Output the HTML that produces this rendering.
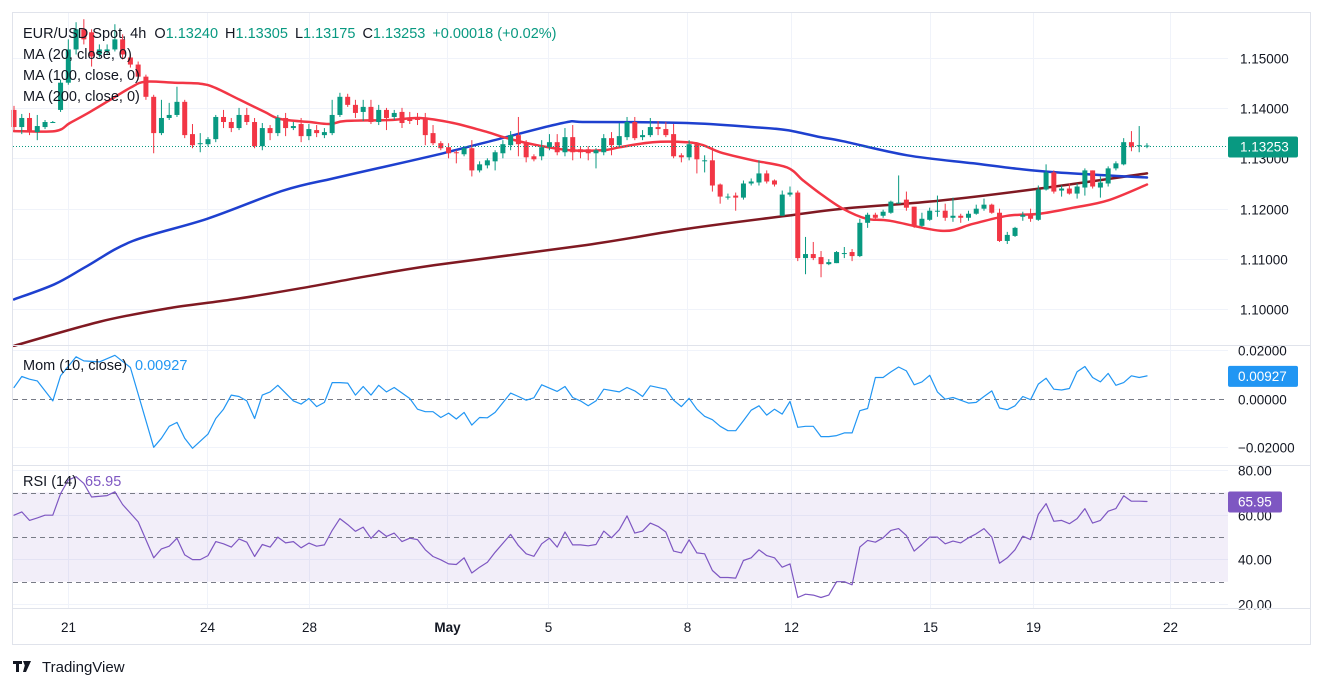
<!DOCTYPE html>
<html><head><meta charset="utf-8"><style>
html,body{margin:0;padding:0;background:#fff;}
svg{display:block;font-family:"Liberation Sans",sans-serif;}
</style></head><body>
<svg id="chart" width="1323" height="689" viewBox="0 0 1323 689" xmlns="http://www.w3.org/2000/svg">
<rect x="0" y="0" width="1323" height="689" fill="#fff"/>
<g id="grid"></g>
<g id="rsiband"></g>
<g id="mas"></g>
<g id="candles"></g>
<g id="ind"></g>
<g id="axes"></g>
<rect x="12.5" y="12.5" width="1298" height="632" fill="none" stroke="#e0e3eb"/>
<line x1="12" y1="345.5" x2="1310" y2="345.5" stroke="#e0e3eb"/>
<line x1="12" y1="465.5" x2="1310" y2="465.5" stroke="#e0e3eb"/>
<line x1="12" y1="608.5" x2="1310" y2="608.5" stroke="#e0e3eb"/>
<g font-size="14.5" fill="#131722">
<text x="23" y="38">EUR/USD Spot, 4h <tspan dx="4">O</tspan><tspan fill="#089981">1.13240</tspan><tspan dx="7">H</tspan><tspan fill="#089981">1.13305</tspan><tspan dx="7">L</tspan><tspan fill="#089981">1.13175</tspan><tspan dx="7">C</tspan><tspan fill="#089981">1.13253</tspan><tspan dx="7" fill="#089981">+0.00018 (+0.02%)</tspan></text>
<text x="23" y="59">MA (20, close, 0)</text>
<text x="23" y="80">MA (100, close, 0)</text>
<text x="23" y="101">MA (200, close, 0)</text>
<text x="23" y="370">Mom (10, close) <tspan dx="4" fill="#2196f3">0.00927</tspan></text>
<text x="23" y="486">RSI (14) <tspan dx="4" fill="#7e57c2">65.95</tspan></text>
</g>
<g>
<path d="M13 661h9v3h-3v8h-3v-8h-3z M23 661h3l-1 5z M26 661h5l-5 11h-3z" fill="#131722"/>
<text x="42" y="672" font-size="15" fill="#131722">TradingView</text>
</g>
</svg>
<script>
const opens=[1.1396,1.1362,1.1380,1.1352,1.1362,1.1372,1.1396,1.1450,1.1516,1.1556,1.1550,1.1506,1.1512,1.1516,1.1536,1.1500,1.1486,1.1462,1.1422,1.1350,1.1380,1.1386,1.1412,1.1348,1.1330,1.1328,1.1338,1.1382,1.1372,1.1360,1.1386,1.1372,1.1324,1.1360,1.1350,1.1380,1.1360,1.1368,1.1344,1.1356,1.1346,1.1350,1.1386,1.1422,1.1406,1.1392,1.1402,1.1372,1.1396,1.1382,1.1392,1.1380,1.1380,1.1380,1.1350,1.1330,1.1322,1.1312,1.1308,1.1320,1.1276,1.1286,1.1294,1.1310,1.1326,1.1346,1.1330,1.1304,1.1304,1.1322,1.1332,1.1312,1.1342,1.1318,1.1318,1.1310,1.1312,1.1340,1.1326,1.1342,1.1372,1.1342,1.1346,1.1362,1.1358,1.1348,1.1306,1.1302,1.1328,1.1296,1.1296,1.1248,1.1224,1.1226,1.1222,1.1250,1.1252,1.1270,1.1256,1.1186,1.1228,1.1232,1.1102,1.1110,1.1104,1.1090,1.1092,1.1112,1.1114,1.1106,1.1172,1.1188,1.1186,1.1192,1.1212,1.1218,1.1204,1.1166,1.1178,1.1196,1.1196,1.1182,1.1186,1.1182,1.1190,1.1200,1.1208,1.1192,1.1136,1.1146,1.1184,1.1188,1.1178,1.1238,1.1272,1.1236,1.1240,1.1230,1.1242,1.1276,1.1242,1.1250,1.1280,1.1288,1.1332,1.1326,1.1324];
const highs=[1.1404,1.1388,1.1390,1.1386,1.1376,1.1374,1.1456,1.1536,1.1570,1.1576,1.1556,1.1526,1.1526,1.1566,1.1546,1.1506,1.1492,1.1466,1.1426,1.1416,1.1410,1.1442,1.1416,1.1368,1.1350,1.1342,1.1386,1.1396,1.1380,1.1400,1.1400,1.1380,1.1370,1.1366,1.1386,1.1390,1.1372,1.1380,1.1368,1.1366,1.1360,1.1416,1.1430,1.1428,1.1416,1.1416,1.1416,1.1406,1.1400,1.1396,1.1400,1.1392,1.1390,1.1390,1.1366,1.1334,1.1330,1.1316,1.1324,1.1336,1.1294,1.1300,1.1316,1.1336,1.1354,1.1382,1.1336,1.1308,1.1336,1.1348,1.1348,1.1360,1.1366,1.1324,1.1324,1.1320,1.1348,1.1352,1.1370,1.1382,1.1382,1.1356,1.1380,1.1374,1.1372,1.1368,1.1310,1.1336,1.1332,1.1306,1.1322,1.1250,1.1230,1.1232,1.1256,1.1260,1.1296,1.1276,1.1258,1.1236,1.1244,1.1236,1.1144,1.1134,1.1116,1.1100,1.1116,1.1124,1.1120,1.1180,1.1192,1.1192,1.1198,1.1216,1.1266,1.1234,1.1204,1.1192,1.1202,1.1226,1.1210,1.1222,1.1190,1.1196,1.1208,1.1220,1.1210,1.1200,1.1154,1.1164,1.1194,1.1200,1.1246,1.1288,1.1276,1.1246,1.1250,1.1250,1.1280,1.1276,1.1264,1.1284,1.1294,1.1340,1.1354,1.1364,1.1330];
const lows=[1.1356,1.1348,1.1346,1.1336,1.1358,1.1370,1.1392,1.1446,1.1506,1.1526,1.1482,1.1500,1.1506,1.1512,1.1496,1.1480,1.1456,1.1416,1.1310,1.1346,1.1376,1.1382,1.1340,1.1320,1.1312,1.1324,1.1332,1.1360,1.1352,1.1356,1.1366,1.1320,1.1316,1.1336,1.1344,1.1344,1.1356,1.1332,1.1336,1.1342,1.1340,1.1346,1.1382,1.1402,1.1380,1.1374,1.1368,1.1366,1.1356,1.1376,1.1360,1.1368,1.1366,1.1326,1.1326,1.1316,1.1300,1.1290,1.1304,1.1264,1.1272,1.1280,1.1276,1.1300,1.1316,1.1304,1.1292,1.1294,1.1296,1.1316,1.1306,1.1304,1.1296,1.1300,1.1296,1.1280,1.1306,1.1306,1.1322,1.1336,1.1336,1.1336,1.1342,1.1346,1.1342,1.1300,1.1292,1.1296,1.1270,1.1272,1.1234,1.1210,1.1218,1.1196,1.1218,1.1246,1.1246,1.1250,1.1244,1.1186,1.1224,1.1096,1.1070,1.1098,1.1064,1.1088,1.1092,1.1102,1.1096,1.1104,1.1162,1.1178,1.1182,1.1190,1.1210,1.1196,1.1162,1.1164,1.1176,1.1184,1.1176,1.1174,1.1172,1.1176,1.1188,1.1196,1.1190,1.1134,1.1130,1.1144,1.1176,1.1174,1.1176,1.1236,1.1230,1.1224,1.1228,1.1220,1.1226,1.1240,1.1222,1.1244,1.1276,1.1286,1.1314,1.1312,1.1320];
const closes=[1.1362,1.1380,1.1354,1.1364,1.1372,1.1372,1.1450,1.1516,1.1556,1.1536,1.1502,1.1516,1.1516,1.1536,1.1506,1.1486,1.1462,1.1422,1.1350,1.1380,1.1386,1.1412,1.1346,1.1326,1.1330,1.1338,1.1382,1.1372,1.1360,1.1386,1.1372,1.1324,1.1360,1.1350,1.1380,1.1360,1.1364,1.1344,1.1358,1.1350,1.1352,1.1386,1.1422,1.1406,1.1390,1.1402,1.1372,1.1396,1.1380,1.1390,1.1370,1.1374,1.1376,1.1346,1.1330,1.1320,1.1310,1.1310,1.1320,1.1276,1.1288,1.1296,1.1312,1.1328,1.1346,1.1328,1.1302,1.1298,1.1322,1.1332,1.1312,1.1342,1.1312,1.1312,1.1310,1.1316,1.1340,1.1326,1.1344,1.1372,1.1340,1.1346,1.1362,1.1358,1.1346,1.1304,1.1302,1.1328,1.1298,1.1296,1.1246,1.1224,1.1224,1.1222,1.1250,1.1254,1.1270,1.1254,1.1248,1.1228,1.1232,1.1102,1.1110,1.1102,1.1090,1.1094,1.1114,1.1112,1.1106,1.1172,1.1188,1.1182,1.1194,1.1214,1.1212,1.1202,1.1166,1.1180,1.1196,1.1196,1.1182,1.1186,1.1182,1.1190,1.1200,1.1208,1.1192,1.1136,1.1148,1.1162,1.1188,1.1180,1.1238,1.1272,1.1234,1.1240,1.1230,1.1244,1.1276,1.1244,1.1252,1.1280,1.1290,1.1332,1.1322,1.1326,1.13253];
const ma20Idx=[0,5.3,7.2,9.8,12.4,15,16.9,20.7,24,25.9,29.1,32.3,34.3,38.1,40.7,42.7,48.5,52.3,56.6,61,63.5,67.4,71.6,75.9,78.1,82.3,86.7,88.8,91,95.2,99.6,101.7,103.9,106.8,109.9,112.9,119.7,123.6,128,132.2,136.5,140.9,146];
const ma20Val=[1.1354,1.1354,1.1370,1.1392,1.1416,1.1440,1.1452,1.1450,1.1448,1.1440,1.1416,1.1392,1.1378,1.1372,1.1368,1.1374,1.1376,1.1380,1.1370,1.1352,1.1340,1.1326,1.1316,1.1316,1.1322,1.1332,1.1332,1.1326,1.1312,1.1296,1.1282,1.1256,1.1230,1.1200,1.1180,1.1176,1.1156,1.1170,1.1186,1.1190,1.1202,1.1216,1.1248];
const ma100Idx=[0,5.2,9.4,15.3,24.9,34.7,41.1,46.8,54.2,60.9,70.7,73.8,86.7,95.2,99.6,103.9,106.8,115.1,123.6,130,134.4,140.9,146];
const ma100Val=[1.1020,1.1050,1.1086,1.1136,1.1180,1.1236,1.1260,1.1280,1.1306,1.1332,1.1370,1.1372,1.1370,1.1362,1.1356,1.1342,1.1334,1.1306,1.1290,1.1278,1.1272,1.1266,1.1262];
const ma200Idx=[0,11.1,19.7,28.2,36.9,45.5,54.2,73.8,86.7,99.6,106.8,119.3,132.2,146];
const ma200Val=[1.0928,1.0976,1.1002,1.1020,1.1042,1.1066,1.1088,1.1128,1.1160,1.1186,1.1200,1.1216,1.1240,1.1270];
const momIdx=[0,1,2,3,5,6,8,9,11,13,15,18,19,20,21,22,23,25,26,27,28,29,30,31,32,33,34,36,37,38,39,40,41,42,43,44,45,46,47,48,49,51,52,53,54,55,56,57,58,59,60,61,62,64,65,66,67,68,70,71,72,73,74,75,76,78,79,80,81,82,84,85,86,87,88,89,90,91,92,93,94,95,96,97,98,99,100,101,102,103,104,105,106,107,108,109,110,111,112,113,114,115,116,117,118,119,120,121,122,123,124,125,126,127,128,129,130,131,132,133,134,135,136,137,138,139,140,141,142,143,144,145,146];
const momVal=[0.0045,0.0090,0.0079,0.0072,-0.0010,0.0093,0.0171,0.0154,0.0150,0.0177,0.0127,-0.0200,-0.0163,-0.0114,-0.0098,-0.0163,-0.0204,-0.0146,-0.0082,-0.0044,0.0014,0.0008,-0.0010,-0.0082,0.0014,0.0027,0.0054,-0.0010,-0.0023,0,-0.0033,-0.0016,0.0065,0.0065,0.0063,0.0014,0.0049,0.0014,0.0054,0.0027,0.0045,0,-0.0044,-0.0054,-0.0054,-0.0078,-0.0060,-0.0084,-0.0057,-0.0109,-0.0078,-0.0079,-0.0057,0.0022,0.0008,-0.0007,0.0003,0.0056,0.0029,0.0049,0.0004,-0.0010,-0.0030,-0.0010,0.0038,0.0027,0.0045,0.0031,0.0008,0.0052,0.0038,-0.0007,-0.0033,0.0001,-0.0044,-0.0073,-0.0087,-0.0114,-0.0132,-0.0132,-0.0091,-0.0048,-0.0030,-0.0068,-0.0044,-0.0064,-0.0012,-0.0118,-0.0114,-0.0114,-0.0156,-0.0156,-0.0152,-0.0141,-0.0141,-0.0050,-0.0041,0.0086,0.0086,0.0109,0.0129,0.0113,0.0056,0.0068,0.0095,0.0027,-0.0003,0.0004,-0.0007,-0.0019,-0.0016,0.0008,0.0031,-0.0039,-0.0046,-0.0030,0.0008,-0.0005,0.0059,0.0083,0.0038,0.0035,0.0041,0.0110,0.0131,0.0086,0.0068,0.0103,0.0054,0.0065,0.0093,0.0086,0.00927];
const rsiIdx=[0,1,2,3,4,5,6,7,8,9,10,12,13,14,16,18,19,20,21,22,23,24,25,26,27,28,29,30,31,32,33,34,35,36,37,38,39,40,41,42,43,44,45,46,47,48,49,50,51,52,53,54,55,56,57,58,59,60,61,62,64,65,66,67,68,69,70,71,72,73,74,75,76,77,78,79,80,81,82,83,84,85,86,87,88,89,90,91,92,93,94,95,96,97,98,99,100,101,102,103,104,105,106,107,108,109,110,111,112,113,114,115,116,117,118,119,120,121,122,123,124,125,126,127,128,129,130,131,132,133,134,135,136,137,138,139,140,141,142,143,144,145,146];
const rsiVal=[59.8,61.3,57.5,58.6,59.8,59.8,69.5,75.6,77.1,74.1,68.0,68.6,70.3,64.6,56.8,40.7,44.7,45.9,49.5,42.0,39.9,39.9,41.7,48.0,47.0,45.5,49.2,47.7,41.3,46.7,45.5,50.0,47.4,48.0,45.2,47.3,45.9,46.5,53.0,58.3,55.6,52.6,54.5,49.4,53.0,50.3,51.8,48.0,49.5,48.9,44.3,41.3,39.8,38.0,37.7,40.7,33.9,36.5,38.7,43.2,51.2,46.2,42.5,41.4,47.0,49.5,45.5,52.3,46.5,46.5,46.1,46.7,52.7,49.7,53.3,59.5,51.8,52.7,56.3,54.8,52.3,43.7,42.9,48.8,42.9,42.5,35.0,31.9,31.9,31.6,39.5,40.7,44.3,41.7,40.7,36.5,38.0,22.9,24.4,24.0,22.9,24.0,30.0,30.0,28.6,45.5,48.5,47.7,49.7,53.0,53.8,50.7,43.7,46.7,50.0,50.0,47.0,48.2,47.4,49.7,51.5,53.8,50.0,38.3,40.7,44.3,50.4,48.9,60.2,65.0,57.1,57.5,56.0,58.3,62.8,56.3,57.5,61.6,62.8,68.5,66.1,66.1,65.95];
const priceTicks=[1.15,1.14,1.13,1.12,1.11,1.10];
const priceTickLabels=["1.15000","1.14000","1.13000","1.12000","1.11000","1.10000"];
const momTicks=[0.02,0,-0.02];
const momTickLabels=["0.02000","0.00000","\u22120.02000"];
const rsiTicks=[80,60,40,20];
const rsiTickLabels=["80.00","60.00","40.00","20.00"];
const dateIdx=[6.9,24.9,38,55.8,68.8,86.7,100.1,118,131.3,149];
const dateLabels=["21","24","28","May","5","8","12","15","19","22"];

const NS="http://www.w3.org/2000/svg";
const PL=13, PR=1228;
const xOf=i=>14+i*7.76;
const yP=p=>57.5+(1.15-p)*5040;
const yM=v=>398.5-v*2440;
const yR=v=>604-(v-20)*2.23;
function mk(tag,attrs,parent){const e=document.createElementNS(NS,tag);for(const k in attrs)e.setAttribute(k,attrs[k]);parent.appendChild(e);return e;}
const G=id=>document.getElementById(id);
const grid=G('grid'),axes=G('axes'),cg=G('candles'),mg=G('mas'),ig=G('ind'),bg=G('rsiband');

dateIdx.forEach((d,k)=>{const x=Math.round(xOf(d))+0.5;
 const l=mk('line',{x1:x,y1:13,x2:x,y2:608,stroke:'#f0f3fa'},grid);
 
 const t=mk('text',{x:x,y:632,'text-anchor':'middle','font-size':13.5,fill:'#131722','font-weight':dateLabels[k]==='May'?'bold':'normal'},axes);
 t.textContent=dateLabels[k];});
priceTicks.forEach((p,k)=>{const y=Math.round(yP(p))+0.5;
 const l=mk('line',{x1:PL,y1:y,x2:PR,y2:y,stroke:'#f0f3fa'},grid);
 
 const t=mk('text',{x:1240,y:y+5,'font-size':13.5,fill:'#131722'},axes);t.textContent=priceTickLabels[k];
 });
momTicks.forEach((v,k)=>{const y=Math.round(yM(v))+0.5;
 const l=mk('line',v===0?{x1:PL,y1:y,x2:PR,y2:y,stroke:'#787b86','stroke-dasharray':'5,4'}:{x1:PL,y1:y,x2:PR,y2:y,stroke:'#f0f3fa'},grid);
 
 const t=mk('text',{x:1238,y:y+5,'font-size':13.5,fill:'#131722'},axes);t.textContent=momTickLabels[k];
 });
const band=mk('rect',{x:PL,y:yR(70),width:PR-PL,height:yR(30)-yR(70),fill:'rgba(126,87,194,0.1)'},bg);

rsiTicks.forEach((v,k)=>{const y=Math.round(yR(v))+0.5;
 const l=mk('line',{x1:PL,y1:y,x2:PR,y2:y,stroke:'#f0f3fa'},grid);
 
 const t=mk('text',{x:1238,y:y+5,'font-size':13.5,fill:'#131722'},axes);t.textContent=rsiTickLabels[k];
 });
[70,50,30].forEach(v=>{const y=Math.round(yR(v))+0.5;
 const l=mk('line',{x1:PL,y1:y,x2:PR,y2:y,stroke:'#787b86','stroke-dasharray':'5,4'},bg);
 });

function poly(idx,val,yf,color,w,name,parent){const pts=idx.map((d,k)=>xOf(d).toFixed(1)+','+yf(val[k]).toFixed(1)).join(' ');
 const p=mk('polyline',{points:pts,fill:'none',stroke:color,'stroke-width':w,'stroke-linejoin':'round','stroke-linecap':'round'},parent);
 }
function smooth(idx,val,yf,color,w,name,parent){
 const P=idx.map((d,k)=>[xOf(d),yf(val[k])]);
 let d='M'+P[0][0].toFixed(1)+','+P[0][1].toFixed(1);
 for(let i=0;i<P.length-1;i++){const p0=P[Math.max(0,i-1)],p1=P[i],p2=P[i+1],p3=P[Math.min(P.length-1,i+2)];
  const c1=[p1[0]+(p2[0]-p0[0])/6,p1[1]+(p2[1]-p0[1])/6],c2=[p2[0]-(p3[0]-p1[0])/6,p2[1]-(p3[1]-p1[1])/6];
  d+=' C'+c1[0].toFixed(1)+','+c1[1].toFixed(1)+' '+c2[0].toFixed(1)+','+c2[1].toFixed(1)+' '+p2[0].toFixed(1)+','+p2[1].toFixed(1);}
 const p=mk('path',{d:d,fill:'none',stroke:color,'stroke-width':w,'stroke-linecap':'round'},parent);
 }
smooth(ma200Idx,ma200Val,yP,'#801922',2.5,'ma200-line',mg);
smooth(ma100Idx,ma100Val,yP,'#1e40cf',2.5,'ma100-line',mg);
smooth(ma20Idx,ma20Val,yP,'#f23645',2.5,'ma20-line',mg);

closes.forEach((c,i)=>{const o=opens[i],x=xOf(i),up=c>=o,col=up?'#089981':'#f23645';
 const g=mk('g',{},cg);
 
 mk('line',{x1:x,y1:yP(highs[i]),x2:x,y2:yP(lows[i]),stroke:col,'stroke-width':1},g);
 const t=yP(Math.max(o,c)),b=yP(Math.min(o,c));
 mk('rect',{x:x-2.5,y:t,width:5,height:Math.max(1,b-t),fill:col},g);});
const lp=closes[closes.length-1];
const ly=Math.round(yP(lp))+0.5;
const dl=mk('line',{x1:PL,y1:ly,x2:PR,y2:ly,stroke:'#089981','stroke-dasharray':'1,2'},cg);

const pb=mk('rect',{x:1228,y:ly-10,width:70,height:21,fill:'#089981',rx:2},axes);

const pt=mk('text',{x:1240,y:ly+5,'font-size':13.5,fill:'#fff'},axes);pt.textContent=lp.toFixed(5);


poly(momIdx,momVal,yM,'#2196f3',1.2,'momentum-line',ig);
poly(rsiIdx,rsiVal,yR,'#7e57c2',1.2,'rsi-line',ig);
const mv=momVal[momVal.length-1], my=yM(mv);
const mb=mk('rect',{x:1228,y:my-10,width:70,height:21,fill:'#2196f3',rx:2},axes);

const mt=mk('text',{x:1238,y:my+5,'font-size':13.5,fill:'#fff'},axes);mt.textContent=mv.toFixed(5);

const rv=rsiVal[rsiVal.length-1], ry=yR(rv);
const rb=mk('rect',{x:1228,y:ry-10,width:54,height:21,fill:'#7e57c2',rx:2},axes);

const rt=mk('text',{x:1238,y:ry+5,'font-size':13.5,fill:'#fff'},axes);rt.textContent=rv.toFixed(2);

</script>
</body></html>
